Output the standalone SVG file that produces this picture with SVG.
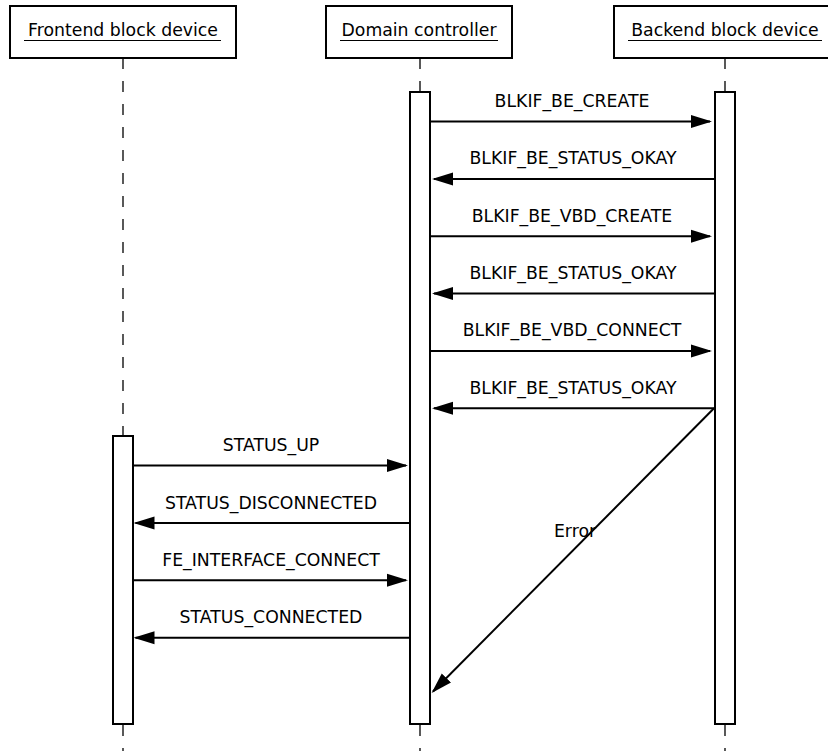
<svg xmlns="http://www.w3.org/2000/svg" width="828" height="751" viewBox="0 0 828 751">
<style>
  .box { fill: #fff; stroke: #000; stroke-width: 2; }
  .bar { fill: #fff; stroke: #000; stroke-width: 2; }
  .life { stroke: #000; stroke-width: 1.3; stroke-dasharray: 11 12; fill: none; }
  .ul { stroke: #000; stroke-width: 1; }
  .msg { stroke: #000; stroke-width: 2; fill: none; marker-end: url(#arr); }
  text { font-family: "DejaVu Sans", "Bitstream Vera Sans", sans-serif; font-size: 17.3px; fill: #000; text-anchor: middle; }
</style>
<defs>
  <marker id="arr" markerUnits="userSpaceOnUse" markerWidth="22" markerHeight="14" refX="19" refY="7" orient="auto" viewBox="0 0 22 14">
    <path d="M0,0.5 L21,7 L0,13.5 z" fill="#000"/>
  </marker>
</defs>
<rect width="828" height="751" fill="#fff"/>

<g id="lifelines">
  <line class="life" x1="123" y1="58" x2="123" y2="751"/>
  <line class="life" x1="420" y1="58" x2="420" y2="751"/>
  <line class="life" x1="725" y1="58" x2="725" y2="751"/>
</g>

<g id="frontend">
  <rect class="box" x="10" y="6" width="226" height="52"/>
  <text x="123" y="36">Frontend block device</text>
  <line class="ul" x1="24" y1="40.5" x2="221" y2="40.5"/>
  <rect class="bar" x="113" y="436" width="20" height="288"/>
</g>

<g id="domain">
  <rect class="box" x="326" y="6" width="186" height="52"/>
  <text x="419" y="36">Domain controller</text>
  <line class="ul" x1="340" y1="40.5" x2="498" y2="40.5"/>
  <rect class="bar" x="410" y="92" width="20" height="632"/>
</g>

<g id="backend">
  <rect class="box" x="614" y="6" width="224" height="52"/>
  <text x="725" y="36">Backend block device</text>
  <line class="ul" x1="628" y1="40.5" x2="822" y2="40.5"/>
  <rect class="bar" x="715" y="92" width="20" height="632"/>
</g>

<g id="connectors">
  <line class="msg" x1="431" y1="121.5" x2="710" y2="121.5"/>
  <text x="572" y="107">BLKIF_BE_CREATE</text>

  <line class="msg" x1="714" y1="178.9" x2="434" y2="178.9"/>
  <text x="573" y="164.4">BLKIF_BE_STATUS_OKAY</text>

  <line class="msg" x1="431" y1="236.2" x2="710" y2="236.2"/>
  <text x="572" y="221.7">BLKIF_BE_VBD_CREATE</text>

  <line class="msg" x1="714" y1="293.6" x2="434" y2="293.6"/>
  <text x="573" y="279.1">BLKIF_BE_STATUS_OKAY</text>

  <line class="msg" x1="431" y1="350.9" x2="710" y2="350.9"/>
  <text x="572" y="336.4">BLKIF_BE_VBD_CONNECT</text>

  <line class="msg" x1="714" y1="408.3" x2="434" y2="408.3"/>
  <text x="573" y="393.8">BLKIF_BE_STATUS_OKAY</text>

  <line class="msg" x1="134" y1="465.6" x2="406" y2="465.6"/>
  <text x="271" y="451.1">STATUS_UP</text>

  <line class="msg" x1="409" y1="523" x2="135.5" y2="523"/>
  <text x="271" y="508.5">STATUS_DISCONNECTED</text>

  <line class="msg" x1="134" y1="580.3" x2="406" y2="580.3"/>
  <text x="271" y="565.8">FE_INTERFACE_CONNECT</text>

  <line class="msg" x1="409" y1="637.7" x2="135.5" y2="637.7"/>
  <text x="271" y="623.2">STATUS_CONNECTED</text>

  <line class="msg" x1="714" y1="408.3" x2="433" y2="691.5"/>
  <text x="575" y="537">Error</text>
</g>
</svg>
